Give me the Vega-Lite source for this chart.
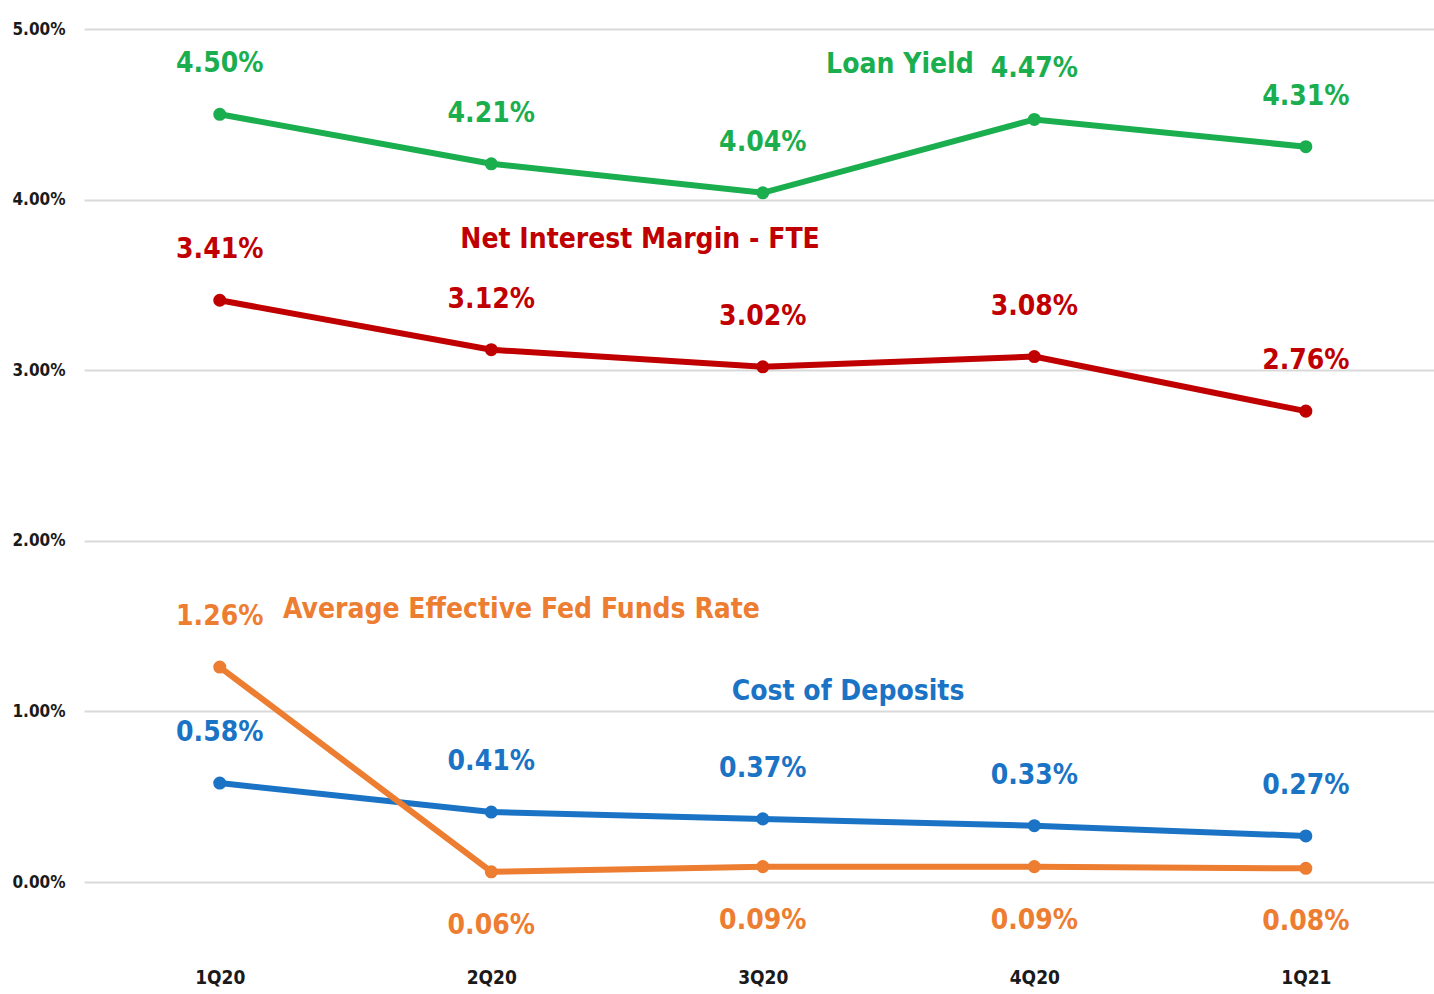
{
  "$schema": "https://vega.github.io/schema/vega-lite/v6.json",
  "autosize": "none",
  "width": 1350,
  "height": 853,
  "padding": {"left": 84, "top": 29, "right": 0, "bottom": 112},
  "background": "white",
  "config": {
    "view": {"stroke": null},
    "font": "DejaVu Sans Condensed"
  },
  "datasets": {
    "series": [
      {"q": 0, "quarter": "1Q20", "series": "Loan Yield", "v": 4.50},
      {"q": 1, "quarter": "2Q20", "series": "Loan Yield", "v": 4.21},
      {"q": 2, "quarter": "3Q20", "series": "Loan Yield", "v": 4.04},
      {"q": 3, "quarter": "4Q20", "series": "Loan Yield", "v": 4.47},
      {"q": 4, "quarter": "1Q21", "series": "Loan Yield", "v": 4.31},
      {"q": 0, "quarter": "1Q20", "series": "Net Interest Margin - FTE", "v": 3.41},
      {"q": 1, "quarter": "2Q20", "series": "Net Interest Margin - FTE", "v": 3.12},
      {"q": 2, "quarter": "3Q20", "series": "Net Interest Margin - FTE", "v": 3.02},
      {"q": 3, "quarter": "4Q20", "series": "Net Interest Margin - FTE", "v": 3.08},
      {"q": 4, "quarter": "1Q21", "series": "Net Interest Margin - FTE", "v": 2.76},
      {"q": 0, "quarter": "1Q20", "series": "Cost of Deposits", "v": 0.58},
      {"q": 1, "quarter": "2Q20", "series": "Cost of Deposits", "v": 0.41},
      {"q": 2, "quarter": "3Q20", "series": "Cost of Deposits", "v": 0.37},
      {"q": 3, "quarter": "4Q20", "series": "Cost of Deposits", "v": 0.33},
      {"q": 4, "quarter": "1Q21", "series": "Cost of Deposits", "v": 0.27},
      {"q": 0, "quarter": "1Q20", "series": "Average Effective Fed Funds Rate", "v": 1.26},
      {"q": 1, "quarter": "2Q20", "series": "Average Effective Fed Funds Rate", "v": 0.06},
      {"q": 2, "quarter": "3Q20", "series": "Average Effective Fed Funds Rate", "v": 0.09},
      {"q": 3, "quarter": "4Q20", "series": "Average Effective Fed Funds Rate", "v": 0.09},
      {"q": 4, "quarter": "1Q21", "series": "Average Effective Fed Funds Rate", "v": 0.08}
    ],
    "names": [
      {"q": 2.505, "v": 4.789, "series": "Loan Yield"},
      {"q": 1.548, "v": 3.763, "series": "Net Interest Margin - FTE"},
      {"q": 2.314, "v": 1.114, "series": "Cost of Deposits"}
    ],
    "namesLeft": [
      {"q": 0.233, "v": 1.594, "series": "Average Effective Fed Funds Rate"}
    ]
  },
  "encoding": {
    "x": {
      "field": "q", "type": "quantitative",
      "scale": {"domain": [-0.5, 4.472], "nice": false, "zero": false},
      "axis": {
        "values": [0, 1, 2, 3, 4],
        "labelExpr": "['1Q20','2Q20','3Q20','4Q20','1Q21'][datum.value]",
        "title": null, "grid": false, "domain": false, "ticks": false,
        "labelPadding": 86, "labelFontSize": 19, "labelFontWeight": "bold",
        "labelColor": "#1a1a1a", "labelFont": "DejaVu Sans Condensed"
      }
    },
    "y": {
      "field": "v", "type": "quantitative",
      "scale": {"domain": [0, 5], "nice": false},
      "axis": {
        "values": [0, 1, 2, 3, 4, 5],
        "labelExpr": "format(datum.value, '.2f') + '%'",
        "title": null, "domain": false, "ticks": false,
        "grid": true, "gridColor": "#d9d9d9", "gridWidth": 2,
        "labelPadding": 19, "labelFontSize": 17, "labelFontWeight": "bold",
        "labelColor": "#1a1a1a", "labelFont": "DejaVu Sans Condensed"
      }
    },
    "color": {
      "field": "series", "type": "nominal", "legend": null,
      "scale": {
        "domain": ["Loan Yield", "Net Interest Margin - FTE", "Cost of Deposits", "Average Effective Fed Funds Rate"],
        "range": ["#1aae4f", "#c00000", "#1a73c4", "#ed7d31"]
      }
    }
  },
  "layer": [
    {
      "data": {"name": "series"},
      "mark": {"type": "line", "strokeWidth": 6, "point": {"filled": true, "size": 170}},
      "encoding": {"detail": {"field": "series"}}
    },
    {
      "data": {"name": "series"},
      "transform": [
        {"filter": "!(datum.series == 'Average Effective Fed Funds Rate' && datum.q > 0)"},
        {"calculate": "format(datum.v, '.2f') + '%'", "as": "lbl"}
      ],
      "mark": {"type": "text", "fontSize": 28, "fontWeight": "bold", "baseline": "middle", "dy": -50, "font": "DejaVu Sans Condensed"},
      "encoding": {"text": {"field": "lbl"}}
    },
    {
      "data": {"name": "series"},
      "transform": [
        {"filter": "datum.series == 'Average Effective Fed Funds Rate' && datum.q > 0"},
        {"calculate": "format(datum.v, '.2f') + '%'", "as": "lbl"}
      ],
      "mark": {"type": "text", "fontSize": 28, "fontWeight": "bold", "baseline": "middle", "dy": 54, "font": "DejaVu Sans Condensed"},
      "encoding": {"text": {"field": "lbl"}}
    },
    {
      "data": {"name": "names"},
      "mark": {"type": "text", "fontSize": 28, "fontWeight": "bold", "baseline": "middle", "font": "DejaVu Sans Condensed"},
      "encoding": {"text": {"field": "series"}}
    },
    {
      "data": {"name": "namesLeft"},
      "mark": {"type": "text", "fontSize": 28, "fontWeight": "bold", "baseline": "middle", "align": "left", "font": "DejaVu Sans Condensed"},
      "encoding": {"text": {"field": "series"}}
    }
  ]
}
